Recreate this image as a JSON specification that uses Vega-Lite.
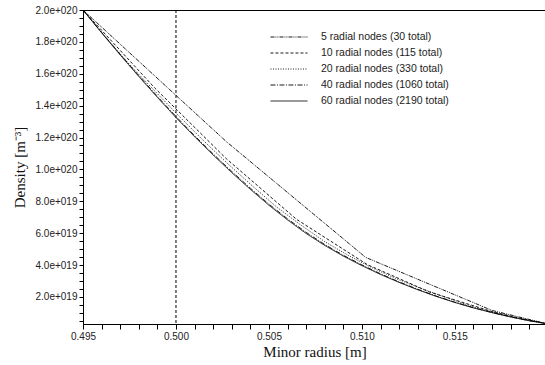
{
  "$schema": "https://vega.github.io/schema/vega-lite/v6.json",
  "width": 463,
  "height": 314,
  "autosize": {"type": "none"},
  "padding": {"left": 83, "top": 10, "right": 0, "bottom": 41},
  "background": "white",
  "config": {
    "view": {"stroke": "black", "strokeWidth": 1},
    "axis": {
      "labelFont": "Liberation Sans", "labelFontSize": 10, "labelColor": "#222",
      "titleFont": "Liberation Serif", "titleFontSize": 15, "titleFontWeight": "normal", "titleColor": "#111",
      "domainColor": "black", "tickColor": "black", "grid": false,
      "labelOverlap": false, "labelBound": false, "labelFlush": false
    },
    "legend": {
      "labelFont": "Liberation Sans", "labelFontSize": 10.5, "labelColor": "#222"
    }
  },
  "datasets": {
    "curves": [
      {"series": "5 radial nodes (30 total)", "r": 0.495, "n": 2.0e20},
      {"series": "5 radial nodes (30 total)", "r": 0.5027, "n": 1.175e20},
      {"series": "5 radial nodes (30 total)", "r": 0.5102, "n": 4.48e19},
      {"series": "5 radial nodes (30 total)", "r": 0.517, "n": 1.15e19},
      {"series": "5 radial nodes (30 total)", "r": 0.5199, "n": 3.3e18},

      {"series": "10 radial nodes (115 total)", "r": 0.495, "n": 2.0e20},
      {"series": "10 radial nodes (115 total)", "r": 0.49885, "n": 1.512e20},
      {"series": "10 radial nodes (115 total)", "r": 0.5027, "n": 1.068e20},
      {"series": "10 radial nodes (115 total)", "r": 0.50648, "n": 6.87e19},
      {"series": "10 radial nodes (115 total)", "r": 0.5103, "n": 4.02e19},
      {"series": "10 radial nodes (115 total)", "r": 0.51365, "n": 2.30e19},
      {"series": "10 radial nodes (115 total)", "r": 0.517, "n": 1.08e19},
      {"series": "10 radial nodes (115 total)", "r": 0.5184, "n": 6.8e18},
      {"series": "10 radial nodes (115 total)", "r": 0.5199, "n": 3.3e18},

      {"series": "20 radial nodes (330 total)", "r": 0.495, "n": 2.0e20},
      {"series": "20 radial nodes (330 total)", "r": 0.4963, "n": 1.818e20},
      {"series": "20 radial nodes (330 total)", "r": 0.4976, "n": 1.645e20},
      {"series": "20 radial nodes (330 total)", "r": 0.4989, "n": 1.487e20},
      {"series": "20 radial nodes (330 total)", "r": 0.5002, "n": 1.330e20},
      {"series": "20 radial nodes (330 total)", "r": 0.5015, "n": 1.178e20},
      {"series": "20 radial nodes (330 total)", "r": 0.5028, "n": 1.034e20},
      {"series": "20 radial nodes (330 total)", "r": 0.5041, "n": 8.97e19},
      {"series": "20 radial nodes (330 total)", "r": 0.5054, "n": 7.65e19},
      {"series": "20 radial nodes (330 total)", "r": 0.5067, "n": 6.52e19},
      {"series": "20 radial nodes (330 total)", "r": 0.5080, "n": 5.47e19},
      {"series": "20 radial nodes (330 total)", "r": 0.5093, "n": 4.58e19},
      {"series": "20 radial nodes (330 total)", "r": 0.5106, "n": 3.80e19},
      {"series": "20 radial nodes (330 total)", "r": 0.5119, "n": 3.12e19},
      {"series": "20 radial nodes (330 total)", "r": 0.5132, "n": 2.52e19},
      {"series": "20 radial nodes (330 total)", "r": 0.5145, "n": 1.98e19},
      {"series": "20 radial nodes (330 total)", "r": 0.5158, "n": 1.45e19},
      {"series": "20 radial nodes (330 total)", "r": 0.5171, "n": 1.02e19},
      {"series": "20 radial nodes (330 total)", "r": 0.5185, "n": 6.6e18},
      {"series": "20 radial nodes (330 total)", "r": 0.5199, "n": 3.3e18},

      {"series": "40 radial nodes (1060 total)", "r": 0.495, "n": 2.0e20},
      {"series": "40 radial nodes (1060 total)", "r": 0.496, "n": 1.860e20},
      {"series": "40 radial nodes (1060 total)", "r": 0.497, "n": 1.722e20},
      {"series": "40 radial nodes (1060 total)", "r": 0.498, "n": 1.588e20},
      {"series": "40 radial nodes (1060 total)", "r": 0.499, "n": 1.458e20},
      {"series": "40 radial nodes (1060 total)", "r": 0.500, "n": 1.332e20},
      {"series": "40 radial nodes (1060 total)", "r": 0.501, "n": 1.212e20},
      {"series": "40 radial nodes (1060 total)", "r": 0.502, "n": 1.097e20},
      {"series": "40 radial nodes (1060 total)", "r": 0.503, "n": 9.87e19},
      {"series": "40 radial nodes (1060 total)", "r": 0.504, "n": 8.82e19},
      {"series": "40 radial nodes (1060 total)", "r": 0.505, "n": 7.82e19},
      {"series": "40 radial nodes (1060 total)", "r": 0.506, "n": 6.90e19},
      {"series": "40 radial nodes (1060 total)", "r": 0.507, "n": 6.05e19},
      {"series": "40 radial nodes (1060 total)", "r": 0.508, "n": 5.29e19},
      {"series": "40 radial nodes (1060 total)", "r": 0.509, "n": 4.61e19},
      {"series": "40 radial nodes (1060 total)", "r": 0.510, "n": 4.01e19},
      {"series": "40 radial nodes (1060 total)", "r": 0.511, "n": 3.45e19},
      {"series": "40 radial nodes (1060 total)", "r": 0.512, "n": 2.94e19},
      {"series": "40 radial nodes (1060 total)", "r": 0.513, "n": 2.48e19},
      {"series": "40 radial nodes (1060 total)", "r": 0.514, "n": 2.05e19},
      {"series": "40 radial nodes (1060 total)", "r": 0.515, "n": 1.67e19},
      {"series": "40 radial nodes (1060 total)", "r": 0.516, "n": 1.32e19},
      {"series": "40 radial nodes (1060 total)", "r": 0.517, "n": 1.02e19},
      {"series": "40 radial nodes (1060 total)", "r": 0.518, "n": 7.5e18},
      {"series": "40 radial nodes (1060 total)", "r": 0.519, "n": 5.1e18},
      {"series": "40 radial nodes (1060 total)", "r": 0.5199, "n": 3.3e18},

      {"series": "60 radial nodes (2190 total)", "r": 0.495, "n": 2.0e20},
      {"series": "60 radial nodes (2190 total)", "r": 0.496, "n": 1.857e20},
      {"series": "60 radial nodes (2190 total)", "r": 0.497, "n": 1.718e20},
      {"series": "60 radial nodes (2190 total)", "r": 0.498, "n": 1.583e20},
      {"series": "60 radial nodes (2190 total)", "r": 0.499, "n": 1.452e20},
      {"series": "60 radial nodes (2190 total)", "r": 0.500, "n": 1.325e20},
      {"series": "60 radial nodes (2190 total)", "r": 0.501, "n": 1.205e20},
      {"series": "60 radial nodes (2190 total)", "r": 0.502, "n": 1.090e20},
      {"series": "60 radial nodes (2190 total)", "r": 0.503, "n": 9.80e19},
      {"series": "60 radial nodes (2190 total)", "r": 0.504, "n": 8.75e19},
      {"series": "60 radial nodes (2190 total)", "r": 0.505, "n": 7.75e19},
      {"series": "60 radial nodes (2190 total)", "r": 0.506, "n": 6.83e19},
      {"series": "60 radial nodes (2190 total)", "r": 0.507, "n": 5.98e19},
      {"series": "60 radial nodes (2190 total)", "r": 0.508, "n": 5.23e19},
      {"series": "60 radial nodes (2190 total)", "r": 0.509, "n": 4.56e19},
      {"series": "60 radial nodes (2190 total)", "r": 0.510, "n": 3.96e19},
      {"series": "60 radial nodes (2190 total)", "r": 0.511, "n": 3.41e19},
      {"series": "60 radial nodes (2190 total)", "r": 0.512, "n": 2.91e19},
      {"series": "60 radial nodes (2190 total)", "r": 0.513, "n": 2.45e19},
      {"series": "60 radial nodes (2190 total)", "r": 0.514, "n": 2.03e19},
      {"series": "60 radial nodes (2190 total)", "r": 0.515, "n": 1.65e19},
      {"series": "60 radial nodes (2190 total)", "r": 0.516, "n": 1.31e19},
      {"series": "60 radial nodes (2190 total)", "r": 0.517, "n": 1.01e19},
      {"series": "60 radial nodes (2190 total)", "r": 0.518, "n": 7.4e18},
      {"series": "60 radial nodes (2190 total)", "r": 0.519, "n": 5.0e18},
      {"series": "60 radial nodes (2190 total)", "r": 0.5199, "n": 3.3e18}
    ],
    "marker": [{"r": 0.5}]
  },
  "encoding": {
    "x": {
      "field": "r", "type": "quantitative",
      "scale": {"domain": [0.495, 0.5199], "nice": false, "zero": false},
      "axis": {
        "title": "Minor radius [m]",
        "values": [0.495, 0.496, 0.497, 0.498, 0.499, 0.5, 0.501, 0.502, 0.503, 0.504, 0.505, 0.506, 0.507, 0.508, 0.509, 0.51, 0.511, 0.512, 0.513, 0.514, 0.515, 0.516, 0.517, 0.518, 0.519],
        "labelExpr": "abs(datum.value*200 - round(datum.value*200)) < 0.001 ? format(datum.value, '.3f') : ''",
        "tickSize": 5, "labelPadding": 2, "titlePadding": 3
      }
    }
  },
  "layer": [
    {
      "data": {"name": "marker"},
      "mark": {"type": "rule", "color": "black", "strokeWidth": 1, "strokeDash": [3, 2]},
      "encoding": {}
    },
    {
      "data": {"name": "curves"},
      "mark": {"type": "line", "color": "black", "clip": true},
      "encoding": {
        "y": {
          "field": "n", "type": "quantitative",
          "scale": {"domain": [3e18, 2e20], "nice": false, "zero": false},
          "axis": {
            "title": "Density [m⁻³]",
            "values": [5e18, 1e19, 1.5e19, 2e19, 2.5e19, 3e19, 3.5e19, 4e19, 4.5e19, 5e19, 5.5e19, 6e19, 6.5e19, 7e19, 7.5e19, 8e19, 8.5e19, 9e19, 9.5e19, 1e20, 1.05e20, 1.1e20, 1.15e20, 1.2e20, 1.25e20, 1.3e20, 1.35e20, 1.4e20, 1.45e20, 1.5e20, 1.55e20, 1.6e20, 1.65e20, 1.7e20, 1.75e20, 1.8e20, 1.85e20, 1.9e20, 1.95e20, 2e20],
            "labelExpr": "round(datum.value/5e18) % 4 == 0 ? format(datum.value/pow(10, floor(log(datum.value)/LN10 + 1e-9)), '.1f') + 'e+0' + floor(log(datum.value)/LN10 + 1e-9) : ''",
            "tickSize": 4, "labelPadding": 2, "titlePadding": 8
          }
        },
        "strokeDash": {
          "field": "series", "type": "nominal",
          "scale": {
            "domain": ["5 radial nodes (30 total)", "10 radial nodes (115 total)", "20 radial nodes (330 total)", "40 radial nodes (1060 total)", "60 radial nodes (2190 total)"],
            "range": [[4, 1, 1, 1, 1, 1], [3, 2], [1, 1.5], [5, 1.5, 1, 1.5], [1, 0]]
          },
          "legend": {
            "title": null, "orient": "none", "legendX": 200, "legendY": 21,
            "symbolType": "M-3.5,0H3.5", "symbolSize": 112, "symbolStrokeColor": "black",
            "symbolStrokeWidth": 1, "labelOffset": 26, "rowPadding": 4
          }
        },
        "strokeWidth": {
          "field": "series", "type": "nominal",
          "scale": {
            "domain": ["5 radial nodes (30 total)", "10 radial nodes (115 total)", "20 radial nodes (330 total)", "40 radial nodes (1060 total)", "60 radial nodes (2190 total)"],
            "range": [0.9, 0.9, 0.9, 0.9, 1.4]
          },
          "legend": null
        }
      }
    }
  ]
}
